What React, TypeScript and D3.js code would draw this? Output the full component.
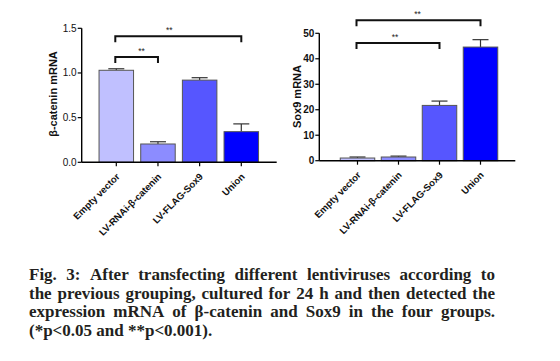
import React, { useMemo } from "react";
import * as d3 from "d3";

const categories = ["Empty vector", "LV-RNAi-β-catenin", "LV-FLAG-Sox9", "Union"];
const barColors = ["#c0c0ff", "#8c8cff", "#5656ff", "#0000ff"];

const betaMeans = [1.03, 0.205, 0.92, 0.343];
const betaErrs = [0.017, 0.025, 0.027, 0.087];
const betaTicks = [0, 0.5, 1.0, 1.5];

const soxMeans = [1.05, 1.45, 21.7, 44.6];
const soxErrs = [0.4, 0.35, 1.7, 2.9];
const soxTicks = [0, 10, 20, 30, 40, 50];

// brackets: [fromIndex, toIndex, yValue, label]
const betaBrackets: [number, number, number, string][] = [
  [0, 1, 1.18, "**"],
  [0, 3, 1.41, "**"],
];
const soxBrackets: [number, number, number, string][] = [
  [0, 2, 46.2, "**"],
  [0, 3, 55.1, "**"],
];

const captionLines = [
  "Fig. 3: After transfecting different lentiviruses according to",
  "the previous grouping, cultured for 24 h and then detected the",
  "expression mRNA of β-catenin and Sox9 in the four groups.",
  "(*p<0.05 and **p<0.001).",
];

const SANS = "'Liberation Sans', Arial, sans-serif";
const SERIF = "'Liberation Serif', 'Times New Roman', serif";

type PanelProps = {
  means: number[];
  errs: number[];
  ticks: number[];
  domain: [number, number];
  yRange: [number, number];
  axisX: [number, number];
  centers: [number, number];
  brackets: [number, number, number, string][];
  yLabel: string;
  yLabelPos: [number, number];
  tickFormat: (v: number) => string;
  tickBold: boolean;
  starDx: number[];
};

function Panel(p: PanelProps) {
  const y = d3.scaleLinear().domain(p.domain).range(p.yRange);
  const x = d3.scalePoint<string>().domain(categories).range(p.centers).padding(0);
  const bw = 34.5;
  const capW = 16;
  const y0 = y(0);
  return (
    <g>
      {categories.map((c, i) => {
        const cx = x(c)!;
        const top = y(p.means[i]);
        const et = y(p.means[i] + p.errs[i]);
        return (
          <g key={c}>
            <line x1={cx} x2={cx} y1={top} y2={et} stroke="#333" strokeWidth={1.2} />
            <line x1={cx - capW / 2} x2={cx + capW / 2} y1={et} y2={et} stroke="#333" strokeWidth={1.2} />
            <rect x={cx - bw / 2} y={top} width={bw} height={y0 - top} fill={barColors[i]} stroke="#555" strokeWidth={1} />
          </g>
        );
      })}
      <line x1={p.axisX[0]} x2={p.axisX[1]} y1={y0} y2={y0} stroke="#000" strokeWidth={1.6} />
      <line x1={p.axisX[0]} x2={p.axisX[0]} y1={y0} y2={y(p.domain[1])} stroke="#000" strokeWidth={1.4} />
      {p.ticks.map((t) => (
        <g key={t}>
          <line x1={p.axisX[0] - 4} x2={p.axisX[0]} y1={y(t)} y2={y(t)} stroke="#000" strokeWidth={1.2} />
          <text x={p.axisX[0] - 5} y={y(t)} dy="0.35em" textAnchor="end" fontFamily={SANS} fontSize={10} fontWeight={p.tickBold ? "bold" : "normal"} fill="#111">
            {p.tickFormat(t)}
          </text>
        </g>
      ))}
      {categories.map((c) => {
        const cx = x(c)!;
        return (
          <g key={"xt" + c}>
            <line x1={cx} x2={cx} y1={y0} y2={y0 + 4} stroke="#000" strokeWidth={1.2} />
            <text transform={`translate(${cx + 4},${y0 + 15}) rotate(-45)`} textAnchor="end" fontFamily={SANS} fontSize={9.6} fontWeight="bold" fill="#111">
              {c}
            </text>
          </g>
        );
      })}
      <text transform={`translate(${p.yLabelPos[0]},${p.yLabelPos[1]}) rotate(-90)`} textAnchor="middle" dy="0.35em" fontFamily={SANS} fontSize={11} fontWeight="bold" fill="#111">
        {p.yLabel}
      </text>
      {p.brackets.map(([a, b, v, lab], k) => {
        const xa = x(categories[a])! - 1;
        const xb = x(categories[b])!;
        const yy = y(v);
        return (
          <g key={"br" + k}>
            <path d={`M${xa},${yy + 6}V${yy}H${xb}V${yy + 6}`} fill="none" stroke="#111" strokeWidth={2} />
            <text x={(xa + xb) / 2 + p.starDx[k]} y={yy - 3} textAnchor="middle" fontFamily={SANS} fontSize={8.5} fill="#222">
              {lab}
            </text>
          </g>
        );
      })}
    </g>
  );
}

function Caption() {
  const fontSize = 17;
  const font = `bold ${fontSize}px 'Liberation Serif'`;
  const left = 29;
  const right = 495;
  const baselines = [280, 298.7, 317.4, 336.1];
  const layout = useMemo(() => {
    const canvas = document.createElement("canvas");
    const ctx = canvas.getContext("2d")!;
    ctx.font = font;
    return captionLines.map((line, li) => {
      const words = line.split(" ");
      const widths = words.map((w) => ctx.measureText(w).width);
      const total = widths.reduce((a, b) => a + b, 0);
      const last = li === captionLines.length - 1;
      const space = last ? ctx.measureText(" ").width : (right - left - total) / (words.length - 1);
      let xx = left;
      return words.map((w, i) => {
        const pos = xx;
        xx += widths[i] + space;
        return { w, x: pos };
      });
    });
  }, []);
  return (
    <g>
      {layout.map((ws, li) => (
        <text key={li} y={baselines[li]} fontFamily={SERIF} fontSize={fontSize} fontWeight="bold" fill="#231f20">
          {ws.map((o, i) => (
            <tspan key={i} x={o.x}>{o.w}</tspan>
          ))}
        </text>
      ))}
    </g>
  );
}

export default function App() {
  return (
    <svg width={560} height={361} style={{ position: "absolute", left: 0, top: 0, background: "#fff" }}>
      <rect width={560} height={361} fill="#fff" />
      <Panel
        means={betaMeans}
        errs={betaErrs}
        ticks={betaTicks}
        domain={[0, 1.5]}
        yRange={[162.3, 28.3]}
        axisX={[81.7, 276.7]}
        centers={[116.3, 241.3]}
        brackets={betaBrackets}
        yLabel="β-catenin mRNA"
        yLabelPos={[53.5, 94]}
        tickFormat={d3.format(".1f")}
        tickBold={false}
        starDx={[5, -9]}
      />
      <Panel
        means={soxMeans}
        errs={soxErrs}
        ticks={soxTicks}
        domain={[0, 50]}
        yRange={[160.7, 33.3]}
        axisX={[319.3, 515.3]}
        centers={[357.5, 480.5]}
        brackets={soxBrackets}
        yLabel="Sox9 mRNA"
        yLabelPos={[297.5, 96.5]}
        tickFormat={d3.format("d")}
        tickBold={true}
        starDx={[-3, -1]}
      />
      <Caption />
    </svg>
  );
}
